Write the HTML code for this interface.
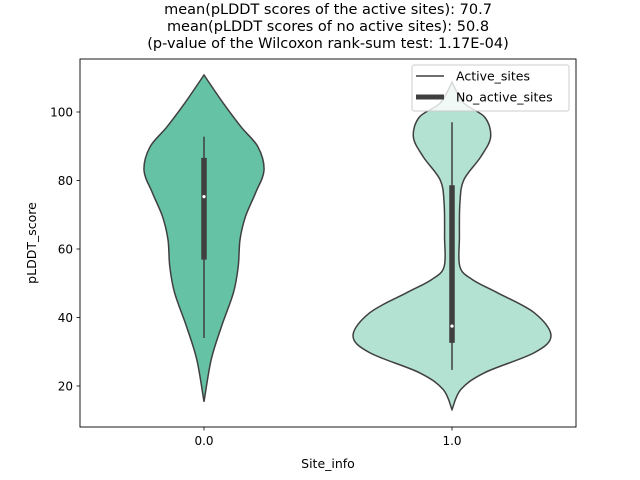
<!DOCTYPE html>
<html><head><meta charset="utf-8"><style>
body{margin:0;background:#fff;}
svg{display:block;font-family:"DejaVu Sans","Liberation Sans",sans-serif;}
</style></head><body>
<svg id="chart" width="640" height="480" viewBox="0 0 640 480">
<rect width="640" height="480" fill="#fff"/>
<g font-size="14.5" text-anchor="middle" fill="#000">
<text x="328" y="14">mean(pLDDT scores of the active sites): 70.7</text>
<text x="328" y="31"> mean(pLDDT scores of no active sites): 50.8</text>
<text x="328" y="48">(p-value of the Wilcoxon rank-sum test: 1.17E-04)</text>
</g>
<g id="marks"></g>
<rect x="80" y="59" width="496" height="368" fill="none" stroke="#000" stroke-width="0.9"/>
<g id="axes" font-size="12" fill="#000"></g>
<text x="328" y="468" font-size="12.5" text-anchor="middle">Site_info</text>
<text transform="translate(36,243) rotate(-90)" font-size="12.5" text-anchor="middle">pLDDT_score</text>
<g>
<rect x="412" y="65" width="157" height="46" rx="2" fill="#fff" fill-opacity="0.8" stroke="#ccc"/>
<line x1="416" y1="76" x2="444" y2="76" stroke="#3f3f3f" stroke-width="1.5"/>
<text x="456" y="80.5" font-size="12.5">Active_sites</text>
<line x1="416" y1="97" x2="444" y2="97" stroke="#3f3f3f" stroke-width="5"/>
<text x="456" y="101.5" font-size="12.5">No_active_sites</text>
</g>
</svg>
<script>
const categories = ["0.0", "1.0"];
const yTicks = [20, 40, 60, 80, 100];
const colors = ["#66c2a5", "#b3e2d3"];
// density profiles: values and relative widths
const densVals0 = [110.8, 102.6, 95.6, 89.8, 83, 76.4, 69.4, 62.7, 54.8, 47.2, 37.3, 27.7, 15.4];
const densW0 =    [0, 0.32, 0.62, 0.9, 1.0, 0.86, 0.69, 0.6, 0.57, 0.49, 0.29, 0.12, 0];
const densVals1 = [108.7, 102.6, 98.5, 92.7, 86.9, 80.2, 73.5, 63.6, 54.8, 51, 47.2, 41.4, 34.7, 29.7, 23.9, 19, 13.1];
const densW1 =    [0, 0.12, 0.33, 0.39, 0.29, 0.12, 0.08, 0.075, 0.08, 0.21, 0.46, 0.83, 1.0, 0.83, 0.33, 0.09, 0];
const maxHalf = [60, 99];
// box stats: whiskerLow, q1, median, q3, whiskerHigh
const box0 = [34, 56.9, 75.3, 86.6, 92.8];
const box1 = [24.7, 32.6, 37.5, 78.6, 97];

const NS = "http://www.w3.org/2000/svg";
const yS = v => 112 + (100 - v) * 3.425;
const xS = i => 204 + i * 248;
const marks = document.getElementById("marks");
const axes = document.getElementById("axes");
function mk(tag, attrs, parent) { const e = document.createElementNS(NS, tag); for (const k in attrs) e.setAttribute(k, attrs[k]); parent.appendChild(e); return e; }
function smooth(pts) {
  let d = "M" + pts[0][0] + "," + pts[0][1];
  for (let i = 0; i < pts.length - 1; i++) {
    const p0 = pts[Math.max(0, i - 1)], p1 = pts[i], p2 = pts[i + 1], p3 = pts[Math.min(pts.length - 1, i + 2)];
    const c1 = [p1[0] + (p2[0] - p0[0]) / 6, p1[1] + (p2[1] - p0[1]) / 6];
    const c2 = [p2[0] - (p3[0] - p1[0]) / 6, p2[1] - (p3[1] - p1[1]) / 6];
    d += " C" + c1[0] + "," + c1[1] + " " + c2[0] + "," + c2[1] + " " + p2[0] + "," + p2[1];
  }
  return d;
}
const dens = [[densVals0, densW0], [densVals1, densW1]];
const boxes = [box0, box1];
dens.forEach((dd, i) => {
  const cx = xS(i);
  const right = dd[0].map((v, k) => [cx + dd[1][k] * maxHalf[i], yS(v)]);
  const left = dd[0].map((v, k) => [cx - dd[1][k] * maxHalf[i], yS(v)]).reverse();
  const d = smooth(right) + " " + smooth(left).replace(/^M/, "L") + " Z";
  const p = mk("path", { d: d, fill: colors[i], stroke: "#3f3f3f", "stroke-width": 1.5 }, marks);
  
  
  const b = boxes[i];
  const w = mk("line", { x1: cx, x2: cx, y1: yS(b[0]), y2: yS(b[4]), stroke: "#3f3f3f", "stroke-width": 1.5 }, marks);
  
  
  const bx = mk("line", { x1: cx, x2: cx, y1: yS(b[1]), y2: yS(b[3]), stroke: "#3f3f3f", "stroke-width": 5.5 }, marks);
  
  
  const m = mk("circle", { cx: cx, cy: yS(b[2]), r: 1.6, fill: "#fff" }, marks);
  
  
  mk("line", { x1: cx, x2: cx, y1: 427, y2: 430.5, stroke: "#000", "stroke-width": 0.8 }, axes);
  const t = mk("text", { x: cx, y: 445, "text-anchor": "middle" }, axes);
  t.textContent = categories[i];
  
  
});
yTicks.forEach(v => {
  const y = yS(v);
  mk("line", { x1: 76.5, x2: 80, y1: y, y2: y, stroke: "#000", "stroke-width": 0.8 }, axes);
  const t = mk("text", { x: 73, y: y + 4.3, "text-anchor": "end" }, axes);
  t.textContent = v;
  
  
});
</script>
</body></html>
